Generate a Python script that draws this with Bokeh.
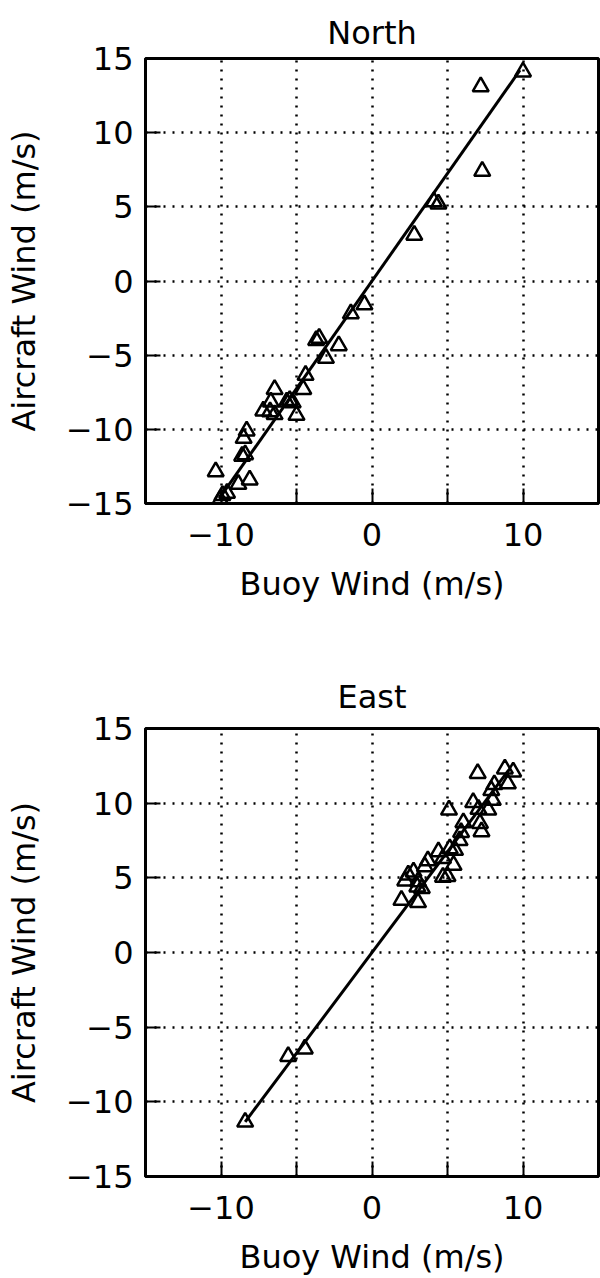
from bokeh.plotting import figure
from bokeh.layouts import column
from bokeh.models import Range1d, FixedTicker, Title
from bokeh.embed import file_html
from bokeh.resources import INLINE

# ---- data ----
north_buoy = [10.0, 7.2, 7.3, 4.1, 4.4, 2.8, -0.5, -1.4, -2.2, -3.05, -3.5, -3.7,
              -4.4, -4.55, -5.0, -5.25, -5.45, -5.65, -6.45, -6.7, -7.2, -6.45, -6.75,
              -8.3, -8.5, -8.4, -8.6, -10.35, -8.85, -8.1, -10.05, -9.9, -9.6]
north_aircraft = [14.1, 13.1, 7.4, 5.35, 5.2, 3.1, -1.6, -2.2, -4.35, -5.2, -3.85, -4.0,
                  -6.35, -7.3, -9.05, -8.2, -8.05, -8.15, -7.3, -8.15, -8.75, -9.0, -8.8,
                  -10.1, -10.6, -11.7, -11.8, -12.85, -13.7, -13.4, -14.75, -14.45, -14.3]
north_fit_slope = 1.45
north_fit_intercept = 0.0
north_fit_x = [-10.05, 9.8]

east_buoy = [-8.4, -5.55, -4.45, 1.95, 3.05, 3.0, 3.3, 2.2, 2.4, 2.75, 3.05, 3.5, 3.7,
             4.7, 4.7, 5.0, 5.4, 4.4, 5.15, 5.5, 5.8, 5.9, 6.05, 7.15, 7.25, 5.1, 6.7,
             7.05, 7.7, 8.0, 7.9, 8.1, 9.0, 8.8, 9.35, 7.0]
east_aircraft = [-11.35, -6.95, -6.45, 3.5, 3.35, 4.4, 4.3, 4.8, 5.2, 5.4, 4.75, 5.75, 6.15,
                 6.3, 5.05, 5.1, 5.85, 6.75, 6.95, 6.85, 7.5, 8.05, 8.7, 8.65, 8.1, 9.55, 10.05,
                 9.6, 9.55, 10.2, 10.85, 11.25, 11.3, 12.3, 12.1, 12.0]
east_fit_slope = 1.35
east_fit_intercept = 0.0
east_fit_x = [-8.4, 9.05]

ticks = [-15, -10, -5, 0, 5, 10, 15]
y_tick_labels = {-15: "\u221215", -10: "\u221210", -5: "\u22125", 0: "0", 5: "5", 10: "10", 15: "15"}
x_tick_labels = {-15: "", -10: "\u221210", -5: "", 0: "0", 5: "", 10: "10", 15: ""}
grid_ticks = [-10, -5, 0, 5, 10]

FONT = "DejaVu Sans"
FS = "32px"


def make_panel(title, xs, ys, slope, intercept, fit_x, height, top, bottom, valign, standoff):
    p = figure(width=600, height=height, output_backend="svg", toolbar_location=None,
               x_range=Range1d(-15, 15), y_range=Range1d(-15, 15),
               min_border_left=145, min_border_right=2, min_border_top=top,
               min_border_bottom=bottom, background_fill_color="white",
               border_fill_color="white")
    p.title = Title(text=title, align="center", vertical_align=valign,
                    text_font=FONT, text_font_size=FS,
                    text_font_style="normal", text_color="black", standoff=standoff)
    p.outline_line_color = "black"
    p.outline_line_width = 3
    for ax in (p.xaxis[0], p.yaxis[0]):
        ax.ticker = FixedTicker(ticks=ticks)
        ax.axis_line_width = 3
        ax.axis_line_color = "black"
        ax.major_tick_in = 15
        ax.major_tick_out = 0
        ax.major_tick_line_width = 2
        ax.major_tick_line_color = "black"
        ax.minor_tick_line_color = None
        ax.major_label_text_font = FONT
        ax.major_label_text_font_size = FS
        ax.major_label_text_color = "black"
        ax.axis_label_text_font = FONT
        ax.axis_label_text_font_size = FS
        ax.axis_label_text_font_style = "normal"
        ax.axis_label_text_color = "black"
    p.xaxis[0].major_label_overrides = x_tick_labels
    p.yaxis[0].major_label_overrides = y_tick_labels
    p.xaxis[0].axis_label = "Buoy Wind (m/s)"
    p.yaxis[0].axis_label = "Aircraft Wind (m/s)"
    p.xaxis[0].major_label_standoff = 19
    p.xaxis[0].axis_label_standoff = 16
    p.yaxis[0].major_label_standoff = 12
    p.yaxis[0].axis_label_standoff = 20
    for g in (p.xgrid[0], p.ygrid[0]):
        g.ticker = FixedTicker(ticks=grid_ticks)
        g.grid_line_color = "black"
        g.grid_line_width = 2.5
        g.grid_line_dash = "2 7"

    fy = [slope * x + intercept for x in fit_x]
    p.line(fit_x, fy, line_color="black", line_width=3)
    p.scatter(xs, ys, marker="triangle", size=16, fill_color=None,
              line_color="black", line_width=2.5)
    return p


p1 = make_panel("North", north_buoy, north_aircraft, north_fit_slope, north_fit_intercept,
                north_fit_x, 620, 58, 117, "top", 10)
p2 = make_panel("East", east_buoy, east_aircraft, east_fit_slope, east_fit_intercept,
                east_fit_x, 658, 108, 99, "bottom", 26)

layout = column(p1, p2, spacing=0)
open("out.html", "w").write(file_html(layout, INLINE))
